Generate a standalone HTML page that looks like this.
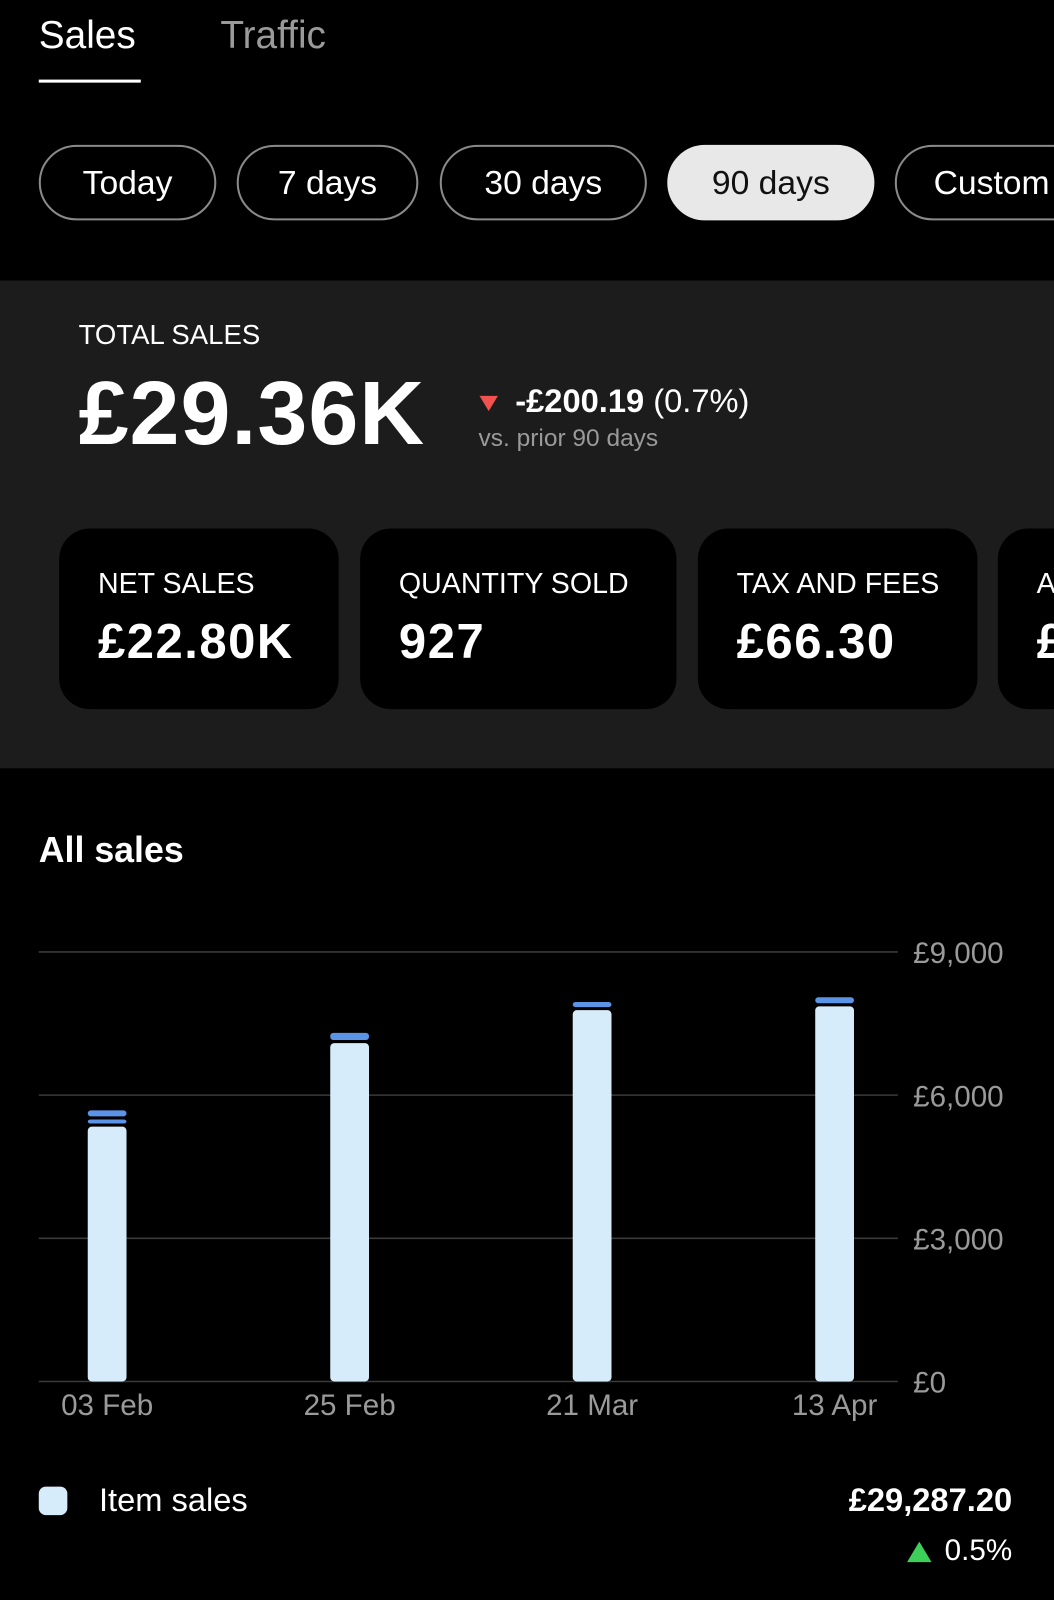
<!DOCTYPE html>
<html><head><meta charset="utf-8">
<style>
html,body{margin:0;padding:0;background:#000;width:1054px;height:1600px;overflow:hidden}
#wrap{position:absolute;left:0;top:0;width:1033px;height:1568px;overflow:hidden;transform:scale(1.0203);transform-origin:0 0;font-family:"Liberation Sans",sans-serif;color:#fff}
.abs{position:absolute;white-space:nowrap}
.pill{position:absolute;top:142px;height:70px;border:2px solid #8a8a8a;border-radius:37px;font-size:33px;line-height:70px;text-align:center;color:#fff}
.card{position:absolute;top:518px;height:177px;background:#000;border-radius:30px;overflow:hidden}
.card .l{position:absolute;left:38px;top:38px;font-size:28px;color:#fff}
.card .v{position:absolute;left:38px;top:84px;font-size:48px;font-weight:bold;letter-spacing:1.5px}
</style></head><body>
<div id="wrap">
<div class="abs" style="left:38px;top:14px;font-size:38px">Sales</div>
<div class="abs" style="left:38px;top:78px;width:100px;height:3px;background:#fff"></div>
<div class="abs" style="left:216px;top:14px;font-size:38px;color:#9a9a9a">Traffic</div>

<div class="pill" style="left:38px;width:170px">Today</div>
<div class="pill" style="left:232px;width:174px">7 days</div>
<div class="pill" style="left:431px;width:199px">30 days</div>
<div class="pill" style="left:654px;width:199px;background:#e8e8e8;border-color:#e8e8e8;color:#111">90 days</div>
<div class="pill" style="left:877px;width:220px;text-align:left;padding-left:36px;box-sizing:border-box;height:74px">Custom</div>

<div class="abs" style="left:0;top:275px;width:1033px;height:478px;background:#1c1c1c"></div>
<div class="abs" style="left:77px;top:313px;font-size:27px">TOTAL SALES</div>
<div class="abs" style="left:77px;top:354px;font-size:88px;font-weight:bold;letter-spacing:1px">£29.36K</div>
<div class="abs" style="left:470px;top:388px;width:0;height:0;border-left:9px solid transparent;border-right:9px solid transparent;border-top:15px solid #f0524f"></div>
<div class="abs" style="left:505px;top:375px;font-size:32px"><b>-£200.19</b> (0.7%)</div>
<div class="abs" style="left:469px;top:416px;font-size:24px;color:#9a9a9a">vs. prior 90 days</div>

<div class="card" style="left:58px;width:274px"><div class="l">NET SALES</div><div class="v">£22.80K</div></div>
<div class="card" style="left:353px;width:310px"><div class="l">QUANTITY SOLD</div><div class="v">927</div></div>
<div class="card" style="left:684px;width:274px"><div class="l">TAX AND FEES</div><div class="v">£66.30</div></div>
<div class="card" style="left:978px;width:200px"><div class="l">A</div><div class="v">£</div></div>

<div class="abs" style="left:38px;top:814px;font-size:35px;font-weight:bold">All sales</div>

<svg class="abs" id="chart" style="left:0;top:0" width="1033" height="1568"></svg>

<div class="abs" style="left:38px;top:1457px;width:28px;height:28px;border-radius:7px;background:#d6ecfa"></div>
<div class="abs" style="left:97px;top:1452px;font-size:32px">Item sales</div>
<div class="abs" style="right:41px;top:1452px;font-size:32px;font-weight:bold">£29,287.20</div>
<div class="abs" style="left:889px;top:1511px;width:0;height:0;border-left:12px solid transparent;border-right:12px solid transparent;border-bottom:20px solid #3ecf5a"></div>
<div class="abs" style="right:41px;top:1504px;font-size:29px">0.5%</div>
</div>
<script>
const categories = ["03 Feb","25 Feb","21 Mar","13 Apr"];
const itemSales = [5340,7090,7780,7860];
const seriesB = [150,0,0,0];
const seriesC = [190,214,170,190];
const yTicks = [0,3000,6000,9000];
const yTickLabels = ["£0","£3,000","£6,000","£9,000"];

const svg = document.getElementById('chart');
const NS = 'http://www.w3.org/2000/svg';
const y0 = 1354, y1 = 933, plotL = 38, plotR = 880;
function yScale(v){ return y0 - (v/9000)*(y0-y1); }
function xScale(i){ return 105 + i*(818-105)/(categories.length-1); }
function mk(tag, attrs){ const e = document.createElementNS(NS, tag); for (const k in attrs) e.setAttribute(k, attrs[k]); svg.appendChild(e); return e; }

yTicks.forEach((t,i)=>{
  const g = mk('line',{x1:plotL,x2:plotR,y1:yScale(t),y2:yScale(t),stroke:'#3a3a3a','stroke-width':1.5});
  
  
  const tx = mk('text',{x:895,y:yScale(t)+11,fill:'#9a9a9a','font-size':29,'font-family':'Liberation Sans, sans-serif'});
  tx.textContent = yTickLabels[i];
  
  
});
categories.forEach((c,i)=>{
  const cx = xScale(i), w = 38, gap = 3;
  const h = y0 - yScale(itemSales[i]);
  const r = mk('rect',{x:cx-w/2,y:yScale(itemSales[i]),width:w,height:h,fill:'#d6ecfa',rx:4});
  
  
  let acc = itemSales[i];
  [[seriesB,'#5b93e6'],[seriesC,'#5b93e6']].forEach(([s,col])=>{
    if (s[i] <= 0) return;
    const top = yScale(acc + s[i]), bot = yScale(acc) - gap;
    const seg = mk('rect',{x:cx-w/2,y:top,width:w,height:Math.max(2,bot-top),fill:col,rx:3});
    
    
    acc += s[i];
  });
  const tx = mk('text',{x:cx,y:1387,fill:'#9a9a9a','font-size':29,'text-anchor':'middle','font-family':'Liberation Sans, sans-serif'});
  tx.textContent = c;
  
  
});
</script>
</body></html>
